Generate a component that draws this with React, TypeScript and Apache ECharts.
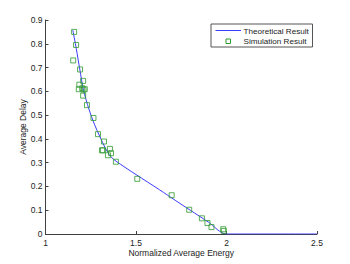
import React, { useEffect, useRef } from "react";
import * as echarts from "echarts";

const xTicks = [1, 1.5, 2, 2.5];
const yTicks = [0, 0.1, 0.2, 0.3, 0.4, 0.5, 0.6, 0.7, 0.8, 0.9];

const theoryX = [1.151, 1.17, 1.19, 1.21, 1.24, 1.27, 1.3, 1.33, 1.36, 1.39, 1.5, 1.63, 1.72, 1.8, 1.9, 2.0, 2.5];
const theoryY = [0.857, 0.78, 0.69, 0.605, 0.525, 0.462, 0.41, 0.362, 0.326, 0.306, 0.25, 0.186, 0.14, 0.1, 0.05, 0, 0];

const simX = [1.158, 1.169, 1.153, 1.191, 1.208, 1.187, 1.184, 1.203, 1.217, 1.21, 1.208, 1.229, 1.265, 1.29, 1.323, 1.312, 1.318, 1.356, 1.362, 1.345, 1.389, 1.507, 1.697, 1.794, 1.864, 1.895, 1.917, 1.982, 1.985];
const simY = [0.85, 0.795, 0.73, 0.692, 0.644, 0.628, 0.609, 0.613, 0.609, 0.607, 0.582, 0.542, 0.488, 0.42, 0.389, 0.352, 0.352, 0.358, 0.34, 0.331, 0.304, 0.232, 0.163, 0.102, 0.066, 0.046, 0.029, 0.02, 0.013];

const legendNames = ["Theoretical Result", "Simulation Result"];

const FONT = "Liberation Sans, Arial, Helvetica, sans-serif";
const FS = 8.5;
const LINE_COLOR = "#3c3cff";
const MARK_COLOR = "#2f9a2f";

export default function App() {
  const ref = useRef<HTMLDivElement>(null);
  useEffect(() => {
    if (!ref.current) return;
    const chart = echarts.init(ref.current, null, { renderer: "svg" });
    const axisColor = "#404040";
    chart.setOption({
      animation: false,
      backgroundColor: "#ffffff",
      grid: { left: 45.5, right: 33, top: 20, bottom: 30, containLabel: false },
      graphic: [
        {
          type: "rect",
          shape: { x: 211, y: 24, width: 101.5, height: 23 },
          style: { fill: "#fff", stroke: "#555", lineWidth: 1 },
          z: 10,
        },
        {
          type: "line",
          shape: { x1: 215.5, y1: 30.5, x2: 241, y2: 30.5 },
          style: { stroke: LINE_COLOR, lineWidth: 1 },
          z: 11,
        },
        {
          type: "rect",
          shape: { x: 226, y: 39, width: 4.5, height: 4.5 },
          style: { fill: "none", stroke: MARK_COLOR, lineWidth: 1 },
          z: 11,
        },
        {
          type: "text",
          x: 243.5,
          y: 31,
          style: { text: legendNames[0], fontFamily: FONT, fontSize: 8.1, fill: "#222", verticalAlign: "middle" },
          z: 11,
        },
        {
          type: "text",
          x: 243.5,
          y: 41.5,
          style: { text: legendNames[1], fontFamily: FONT, fontSize: 8.1, fill: "#222", verticalAlign: "middle" },
          z: 11,
        },
      ],
      xAxis: {
        type: "value",
        min: xTicks[0],
        max: xTicks[xTicks.length - 1],
        interval: 0.5,
        axisLine: { show: true, onZero: false, lineStyle: { color: axisColor, width: 1 } },
        axisTick: { show: true, inside: true, length: 3, lineStyle: { color: axisColor } },
        axisLabel: { fontFamily: FONT, fontSize: FS, color: "#222", margin: 4 },
        splitLine: { show: false },
        name: "Normalized Average Energy",
        nameLocation: "middle",
        nameGap: 14,
        nameMoveOverlap: false,
        nameTextStyle: { fontFamily: FONT, fontSize: FS, color: "#222" },
      },
      yAxis: {
        type: "value",
        min: yTicks[0],
        max: yTicks[yTicks.length - 1],
        interval: 0.1,
        axisLine: { show: true, onZero: false, lineStyle: { color: axisColor, width: 1 } },
        axisTick: { show: true, inside: true, length: 3, lineStyle: { color: axisColor } },
        axisLabel: { fontFamily: FONT, fontSize: FS, color: "#222", margin: 3 },
        splitLine: { show: false },
        name: "Average Delay",
        nameLocation: "middle",
        nameGap: 18,
        nameMoveOverlap: false,
        nameRotate: 90,
        nameTextStyle: { fontFamily: FONT, fontSize: FS, color: "#222" },
      },
      series: [
        {
          name: legendNames[0],
          type: "line",
          data: theoryX.map((x, i) => [x, theoryY[i]]),
          smooth: 0.3,
          showSymbol: false,
          symbol: "none",
          lineStyle: { color: LINE_COLOR, width: 1 },
          itemStyle: { color: LINE_COLOR },
          z: 3,
        },
        {
          name: legendNames[1],
          type: "scatter",
          data: simX.map((x, i) => [x, simY[i]]),
          symbol: "rect",
          symbolSize: 5,
          itemStyle: { color: "rgba(0,0,0,0)", borderColor: MARK_COLOR, borderWidth: 1 },
          z: 4,
        },
      ],
    });
    return () => chart.dispose();
  }, []);
  return (
    <div
      ref={ref}
      style={{ position: "fixed", left: 0, top: 0, width: 350, height: 264 }}
    />
  );
}
